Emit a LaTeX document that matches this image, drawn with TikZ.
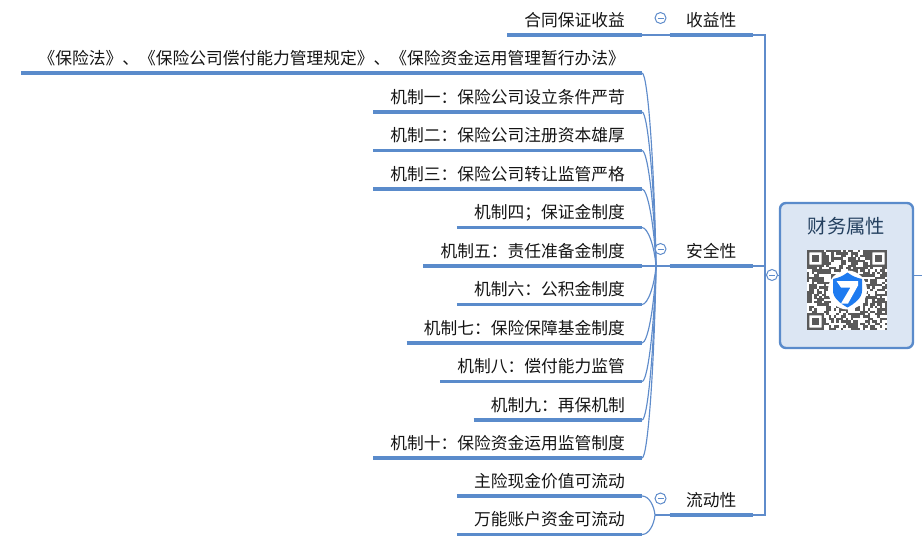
\documentclass[tikz,border=0pt]{standalone}
\usepackage{fontspec}
\setmainfont{Noto Sans CJK SC}
\definecolor{linec}{HTML}{5A8BCB}
\definecolor{thinc}{HTML}{5F8CCB}
\definecolor{boxfill}{HTML}{DCE6F3}
\definecolor{titlec}{HTML}{24405F}
\definecolor{qrc}{HTML}{5A5A5A}
\definecolor{shieldc}{HTML}{1E7BF0}
\tikzset{
  leaf/.style={anchor=south east,inner xsep=17pt,inner ysep=0pt,font=\fontsize{16.75pt}{18pt}\selectfont,text=black!92,text height=20pt,text depth=8.5pt},
  branch/.style={leaf,inner xsep=0pt,minimum width=83pt,align=center},
  under/.style={draw=linec,line width=3.2pt},
  thin/.style={draw=thinc,line width=1.15pt},
  toggle/.style={circle,draw=thinc,fill=white,line width=1pt,minimum size=11pt,inner sep=0pt},
  dashmark/.style={draw=thinc,line width=1pt}
}
\newcommand{\togglemark}[1]{\draw[dashmark] ([xshift=-3pt]#1.center) -- ([xshift=3pt]#1.center);}
\usetikzlibrary{calc}
\begin{document}
\begin{tikzpicture}[x=1pt,y=-1pt]
\useasboundingbox (0,0) rectangle (922,549);
% leaves
\node[leaf] (y1) at (642,35) {合同保证收益};
\foreach \n/\y/\t in {
 a/73/《保险法》、《保险公司偿付能力管理规定》、《保险资金运用管理暂行办法》,
 b/112/机制一：保险公司设立条件严苛,
 c/150.5/机制二：保险公司注册资本雄厚,
 d/189/机制三：保险公司转让监管严格,
 e/227.5/机制四；保证金制度,
 f/266/机制五：责任准备金制度,
 g/304.5/机制六：公积金制度,
 h/343/机制七：保险保障基金制度,
 i/381.5/机制八：偿付能力监管,
 j/420/机制九：再保机制,
 k/458/机制十：保险资金运用监管制度,
 l/496/主险现金价值可流动,
 m/534.5/万能账户资金可流动}{
  \node[leaf] (s\n) at (642,\y) {\t};
}
\foreach \n in {y1,sa,sb,sc,sd,se,sf,sg,sh,si,sj,sk,sl,sm}{
  \draw[under] (\n.south west) -- (\n.south east);
}
% branches
\node[branch] (b1) at (753,35) {收益性};
\node[branch] (b2) at (753,266) {安全性};
\node[branch] (b3) at (753,515) {流动性};
\foreach \n in {b1,b2,b3}{\draw[under] (\n.south west) -- (\n.south east);}
% hubs
\coordinate (hub2) at (656,266);
\coordinate (hub3) at (655,515);
\draw[thin] (b2.south west) -- (hub2);
\draw[thin] (b3.south west) -- (hub3);
\draw[thin] (b1.south west) -- (y1.south east);
\foreach \n in {sa,sb,sc,sd,se,sf,sg,sh,si,sj,sk}{
  \draw[thin] (hub2) .. controls ($(hub2)!.5!(\n.south east)+(5.5,0)$) and ($(\n.south east)+(6,0)$) .. (\n.south east);
}
\foreach \n in {sl,sm}{
  \draw[thin] (hub3) .. controls ($(hub3)!.5!(\n.south east)+(5.5,0)$) and ($(\n.south east)+(7,0)$) .. (\n.south east);
}
% central box
\node[draw=linec,fill=boxfill,line width=2.4pt,rounded corners=6pt,minimum width=133pt,minimum height=145pt,inner sep=0pt] (root) at (846.5,275.5) {};
\node[font=\fontsize{19.3pt}{21pt}\selectfont,text=titlec,inner sep=0pt] (title) at (846.5,226.5) {财务属性};
% spine
\coordinate (spine1) at (765,35);
\coordinate (spine3) at (765,515);
\coordinate (spinem) at (765,275.5);
\coordinate (rootout) at (922,275.5);
\draw[thin] (b1.south east) -- (spine1) -- (spine3) -- (b3.south east);
\draw[thin] (b2.south east) -- (765,266);
\draw[thin] (spinem) -- (root.west);
\draw[thin] (root.east) -- (rootout);
% toggles
\node[toggle] (t1) at (660.5,18) {}; \togglemark{t1}
\node[toggle] (t2) at (660.5,249) {}; \togglemark{t2}
\node[toggle] (t3) at (660.5,498.5) {}; \togglemark{t3}
\node[toggle] (t4) at (772,275) {}; \togglemark{t4}
% QR code
\begin{scope}[shift={(807,250)},x=2.424pt,y=-2.424pt]
\fill[white] (0,0) rectangle (33,33);
\pgfmathsetseed{77}
\foreach \r in {0,...,32}{
  \foreach \c in {0,...,32}{
    \pgfmathrandominteger{\v}{0}{99}
    \ifnum\v<54\relax
      \fill[qrc] (\c,\r) rectangle ++(1.02,1.02);
    \fi
  }
}
\foreach \ox/\oy in {0/0,26/0,0/26}{
  \fill[white] (\ox-0.0,\oy) rectangle ++(7,7);
  \fill[qrc,even odd rule] (\ox,\oy) rectangle ++(7,7) (\ox+1,\oy+1) rectangle ++(5,5);
  \fill[qrc] (\ox+2,\oy+2) rectangle ++(3,3);
}
\end{scope}
% shield
\fill[white] (847.5,290) circle (19.5pt);
\fill[shieldc] (847.5,272.5) .. controls (852,276) and (857,278) .. (862,279) -- (862,291)
  .. controls (862,298) and (854,304) .. (847.5,307.5)
  .. controls (841,304) and (833,298) .. (833,291) -- (833,279)
  .. controls (838,278) and (843,276) .. (847.5,272.5) -- cycle;
\fill[white] (836.5,281) -- (858,281) -- (858,285.5) -- (848,303.5) -- (841,303.5) -- (850.5,287.5) -- (841,287.5) -- cycle;
\end{tikzpicture}
\end{document}
